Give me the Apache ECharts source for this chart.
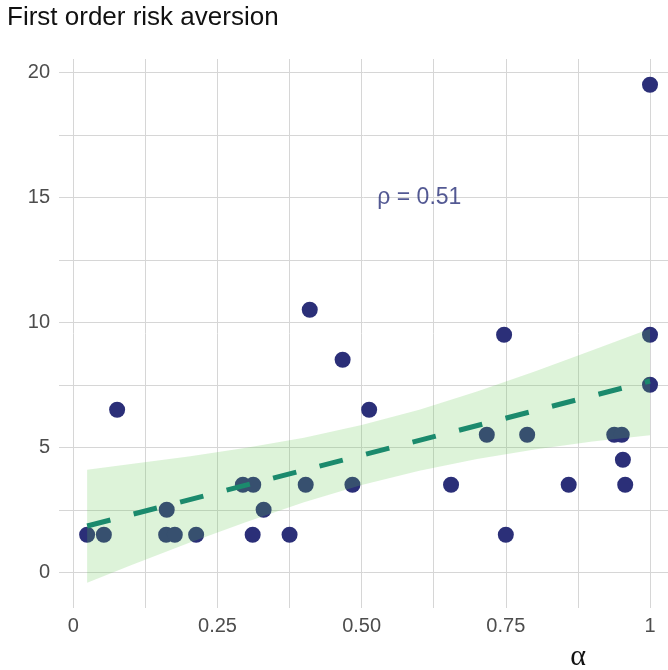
<!DOCTYPE html>
<html><head><meta charset="utf-8">
<script src="https://cdn.jsdelivr.net/npm/echarts@6/dist/echarts.min.js"></script>
<style>html,body{margin:0;padding:0;background:#fff}#c{width:668px;height:670px}</style>
</head><body><div id="c"></div>
<script>
// ---- data ----
const alphaX = [0.024, 0.053, 0.076, 0.162, 0.161, 0.176, 0.213, 0.294, 0.312, 0.311,
                0.330, 0.375, 0.403, 0.410, 0.467, 0.484, 0.513, 0.655, 0.717, 0.747,
                0.750, 0.787, 0.859, 0.938, 0.951, 0.953, 0.957, 1.0, 1.0, 1.0];
const riskY  = [1.5, 1.5, 6.5, 2.5, 1.5, 1.5, 1.5, 3.5, 3.5, 1.5,
                2.5, 1.5, 3.5, 10.5, 8.5, 3.5, 6.5, 3.5, 5.5, 9.5,
                1.5, 5.5, 3.5, 5.5, 5.5, 4.5, 3.5, 9.5, 7.5, 19.5];
const fitX = [0.024, 1.0];
const fitY = [1.85, 7.65];
const bandX  = [0.024, 0.1, 0.2, 0.3, 0.4, 0.5, 0.6, 0.7, 0.8, 0.9, 1.0];
const bandLo = [-0.42, 0.28, 1.17, 2.01, 2.80, 3.49, 4.06, 4.53, 4.91, 5.23, 5.48];
const bandHi = [4.10, 4.33, 4.63, 4.98, 5.38, 5.89, 6.50, 7.23, 8.03, 8.88, 9.74];
const xTickValues = [0, 0.25, 0.5, 0.75, 1];
const xTickLabels = ['0', '0.25', '0.50', '0.75', '1'];
const xGridValues = [0, 0.125, 0.25, 0.375, 0.5, 0.625, 0.75, 0.875, 1];
const yTickValues = [0, 5, 10, 15, 20];
const yTickLabels = ['0', '5', '10', '15', '20'];
const yGridValues = [0, 2.5, 5, 7.5, 10, 12.5, 15, 17.5, 20];
const rhoText = 'ρ = 0.51';
const rhoAt = [0.6, 15];
const titleText = 'First order risk aversion';
const xName = 'α';

const FONT = 'Liberation Sans';
const chart = echarts.init(document.getElementById('c'), null, {renderer: 'canvas'});
chart.setOption({
  animation: false,
  backgroundColor: '#fff',
  textStyle: {fontFamily: FONT},
  grid: {left: 59, top: 59, right: 0, height: 549, containLabel: false},
  xAxis: {
    type: 'value', min: -0.0248, max: 1.0312,
    axisLine: {show: false},
    axisTick: {show: false, customValues: xGridValues},
    axisLabel: {
      customValues: xTickValues, fontSize: 20, color: '#4d4d4d', margin: 8, fontFamily: FONT,
      formatter: v => xTickLabels[xTickValues.findIndex(t => Math.abs(t - v) < 1e-9)]
    },
    splitLine: {show: true, lineStyle: {color: '#d6d6d6', width: 1}}
  },
  yAxis: {
    type: 'value', min: -1.43, max: 20.53,
    axisLine: {show: false},
    axisTick: {show: false, customValues: yGridValues},
    axisLabel: {
      customValues: yTickValues, fontSize: 20, color: '#4d4d4d', margin: 9, fontFamily: FONT,
      formatter: v => yTickLabels[yTickValues.findIndex(t => Math.abs(t - v) < 1e-9)]
    },
    splitLine: {show: true, lineStyle: {color: '#d6d6d6', width: 1}}
  },
  graphic: [
    {type: 'text', left: 7, top: 5, style: {text: titleText, fontSize: 26, fontFamily: FONT, fill: '#111'}},
    {type: 'text', x: 578, y: 657, style: {text: xName, fontSize: 30, fontFamily: 'Liberation Serif', fill: '#111', align: 'center', verticalAlign: 'middle'}}
  ],
  series: [
    {
      type: 'scatter', z: 2, symbolSize: 16,
      itemStyle: {color: '#2b2f78', opacity: 1},
      data: alphaX.map((x, i) => [x, riskY[i]])
    },
    {
      type: 'custom', z: 3, silent: true,
      data: bandX.map((x, i) => [x, bandLo[i], bandHi[i]]),
      encode: {x: 0, y: [1, 2]},
      renderItem: function (params, api) {
        if (params.dataIndex !== 0) return;
        const upper = bandX.map((x, i) => api.coord([x, bandHi[i]]));
        const lower = bandX.map((x, i) => api.coord([x, bandLo[i]])).reverse();
        return {type: 'polygon', shape: {points: upper.concat(lower)}, style: {fill: 'rgba(100,200,80,0.22)'}};
      }
    },
    {
      type: 'line', z: 4, showSymbol: false, silent: true,
      data: fitX.map((x, i) => [x, fitY[i]]),
      lineStyle: {color: '#1b8a6d', width: 5, type: [24, 24], cap: 'butt'}
    },
    {
      type: 'scatter', z: 5, symbolSize: 1, silent: true,
      itemStyle: {color: 'rgba(0,0,0,0)'},
      data: [rhoAt],
      label: {show: true, position: 'inside', formatter: rhoText, fontSize: 23,
              color: '#283078', textBorderWidth: 0, textBorderColor: 'transparent', fontFamily: FONT}
    }
  ]
});
</script></body></html>
